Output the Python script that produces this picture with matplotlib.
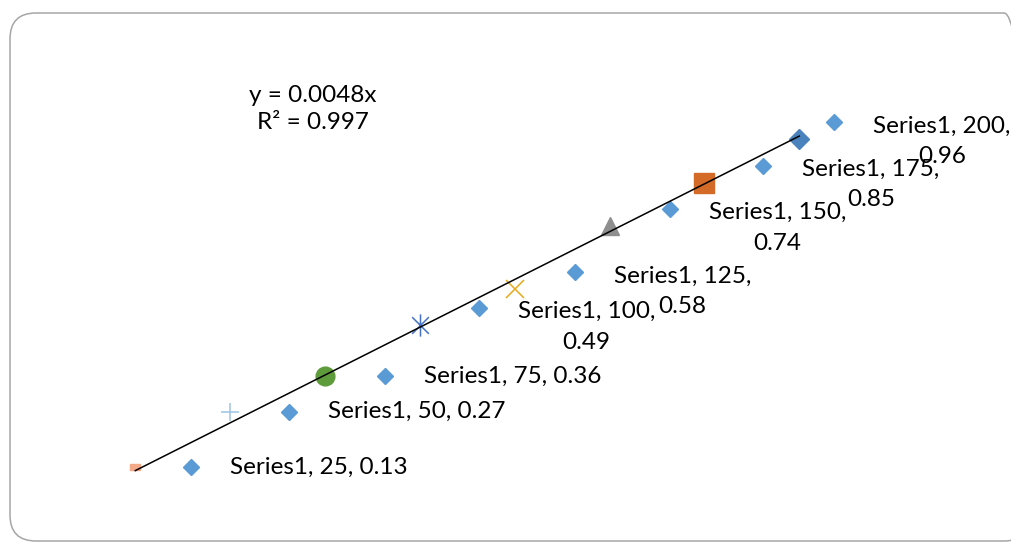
"""Scatter of Series1 with a through-origin linear trendline and keyed data labels."""

import matplotlib

matplotlib.use("Agg")
import matplotlib.pyplot as plt
import numpy as np
from matplotlib.patches import FancyBboxPatch
from matplotlib.path import Path
from matplotlib.transforms import IdentityTransform, offset_copy

# Series1 data
x_vals = [25, 50, 75, 100, 125, 150, 175, 200]
y_vals = [0.13, 0.27, 0.36, 0.49, 0.58, 0.74, 0.85, 0.96]
series_name = "Series1"

# per-point marker formatting
point_markers = ["dash", "+", "o", "star", "x", "^", "s", "D"]
point_colors = ["#F4A989", "#9DC3E6", "#5E9B3A", "#4472C4",
                "#E8A818", "#8E8E8E", "#D46A28", "#4A82BE"]
point_sizes = [7.2, 13.0, 13.5, 16.0, 13.0, 13.5, 14.4, 10.0]

# label layout: horizontal offset of the legend key (px) and whether the text wraps
key_dx = [56, 59, 60, 59, 60, 60, 59, 35]
wrapped = [False, False, False, True, True, True, True, True]

KEY_COLOR = "#5B9BD5"
FONT = "Lato"
FONT_SIZE = 17.5

DASH = Path([(-1, -0.6), (1, -0.6), (1, 0.6), (-1, 0.6), (-1, -0.6)],
            [Path.MOVETO, Path.LINETO, Path.LINETO, Path.LINETO, Path.CLOSEPOLY])
STAR = Path([(0, -1), (0, 1), (-0.75, -0.75), (0.75, 0.75), (-0.75, 0.75), (0.75, -0.75)],
            [Path.MOVETO, Path.LINETO, Path.MOVETO, Path.LINETO, Path.MOVETO, Path.LINETO])


def main():
    fig = plt.figure(figsize=(10.11, 5.42), dpi=100)
    ax = fig.add_axes([0, 0, 1, 1])
    ax.set_xlim(-10.65, 255.8)
    ax.set_ylim(-0.0597, 1.3124)
    ax.axis("off")

    # chart border with rounded corners, in pixel units
    border = FancyBboxPatch((10, 1.0), 1020, 528,
                            boxstyle="round,pad=0,rounding_size=26",
                            transform=IdentityTransform(), fill=False,
                            edgecolor="#A6A6A6", linewidth=1.1)
    fig.patches.append(border)

    x = np.array(x_vals, dtype=float)
    y = np.array(y_vals)

    # data points, each with its own marker style
    for xi, yi, mk, col, ms in zip(x, y, point_markers, point_colors, point_sizes):
        if mk == "dash":
            ax.plot(xi, yi, marker=DASH, ms=ms, color=col, mec=col, ls="none", zorder=3)
        elif mk == "star":
            ax.plot(xi, yi, marker=STAR, ms=ms, color=col, mew=1.1, ls="none", zorder=3)
        elif mk in ("+", "x"):
            ax.plot(xi, yi, marker=mk, ms=ms, color=col, mew=1.1, ls="none", zorder=3)
        else:
            ax.plot(xi, yi, marker=mk, ms=ms, color=col, mec=col, ls="none", zorder=3)

    # linear trendline forced through the origin
    slope = np.sum(x * y) / np.sum(x * x)
    resid = y - slope * x
    r2 = 1 - np.sum(resid ** 2) / np.sum((y - y.mean()) ** 2)
    xt = np.array([x.min(), x.max()])
    ax.plot(xt, slope * xt, color="black", lw=1.1, zorder=4)
    ax.text(71.8, 1.0365, f"y = {slope:.4f}x\nR² = {r2:.3f}", family=FONT,
            fontsize=FONT_SIZE, ha="center", va="center",
            multialignment="center", linespacing=1.4)

    # data labels with legend key
    for xi, yi, dx, wrap in zip(x, y, key_dx, wrapped):
        dy = 17 if wrap else 0
        key_tr = offset_copy(ax.transData, fig=fig, x=dx, y=dy, units="dots")
        ax.plot(xi, yi, marker="D", ms=8.2, color=KEY_COLOR, mec=KEY_COLOR,
                ls="none", transform=key_tr, zorder=3)
        sep = "\n" if wrap else " "
        label = f"{series_name}, {xi:g},{sep}{yi:.2f}"
        ax.annotate(label, (xi, yi), xytext=(dx + 39, -2 if wrap else 0),
                    textcoords="offset pixels",
                    ha="left", va="center", multialignment="center",
                    family=FONT, fontsize=FONT_SIZE, linespacing=1.57, zorder=5)

    fig.savefig("out.png", dpi=100)


if __name__ == "__main__":
    main()
